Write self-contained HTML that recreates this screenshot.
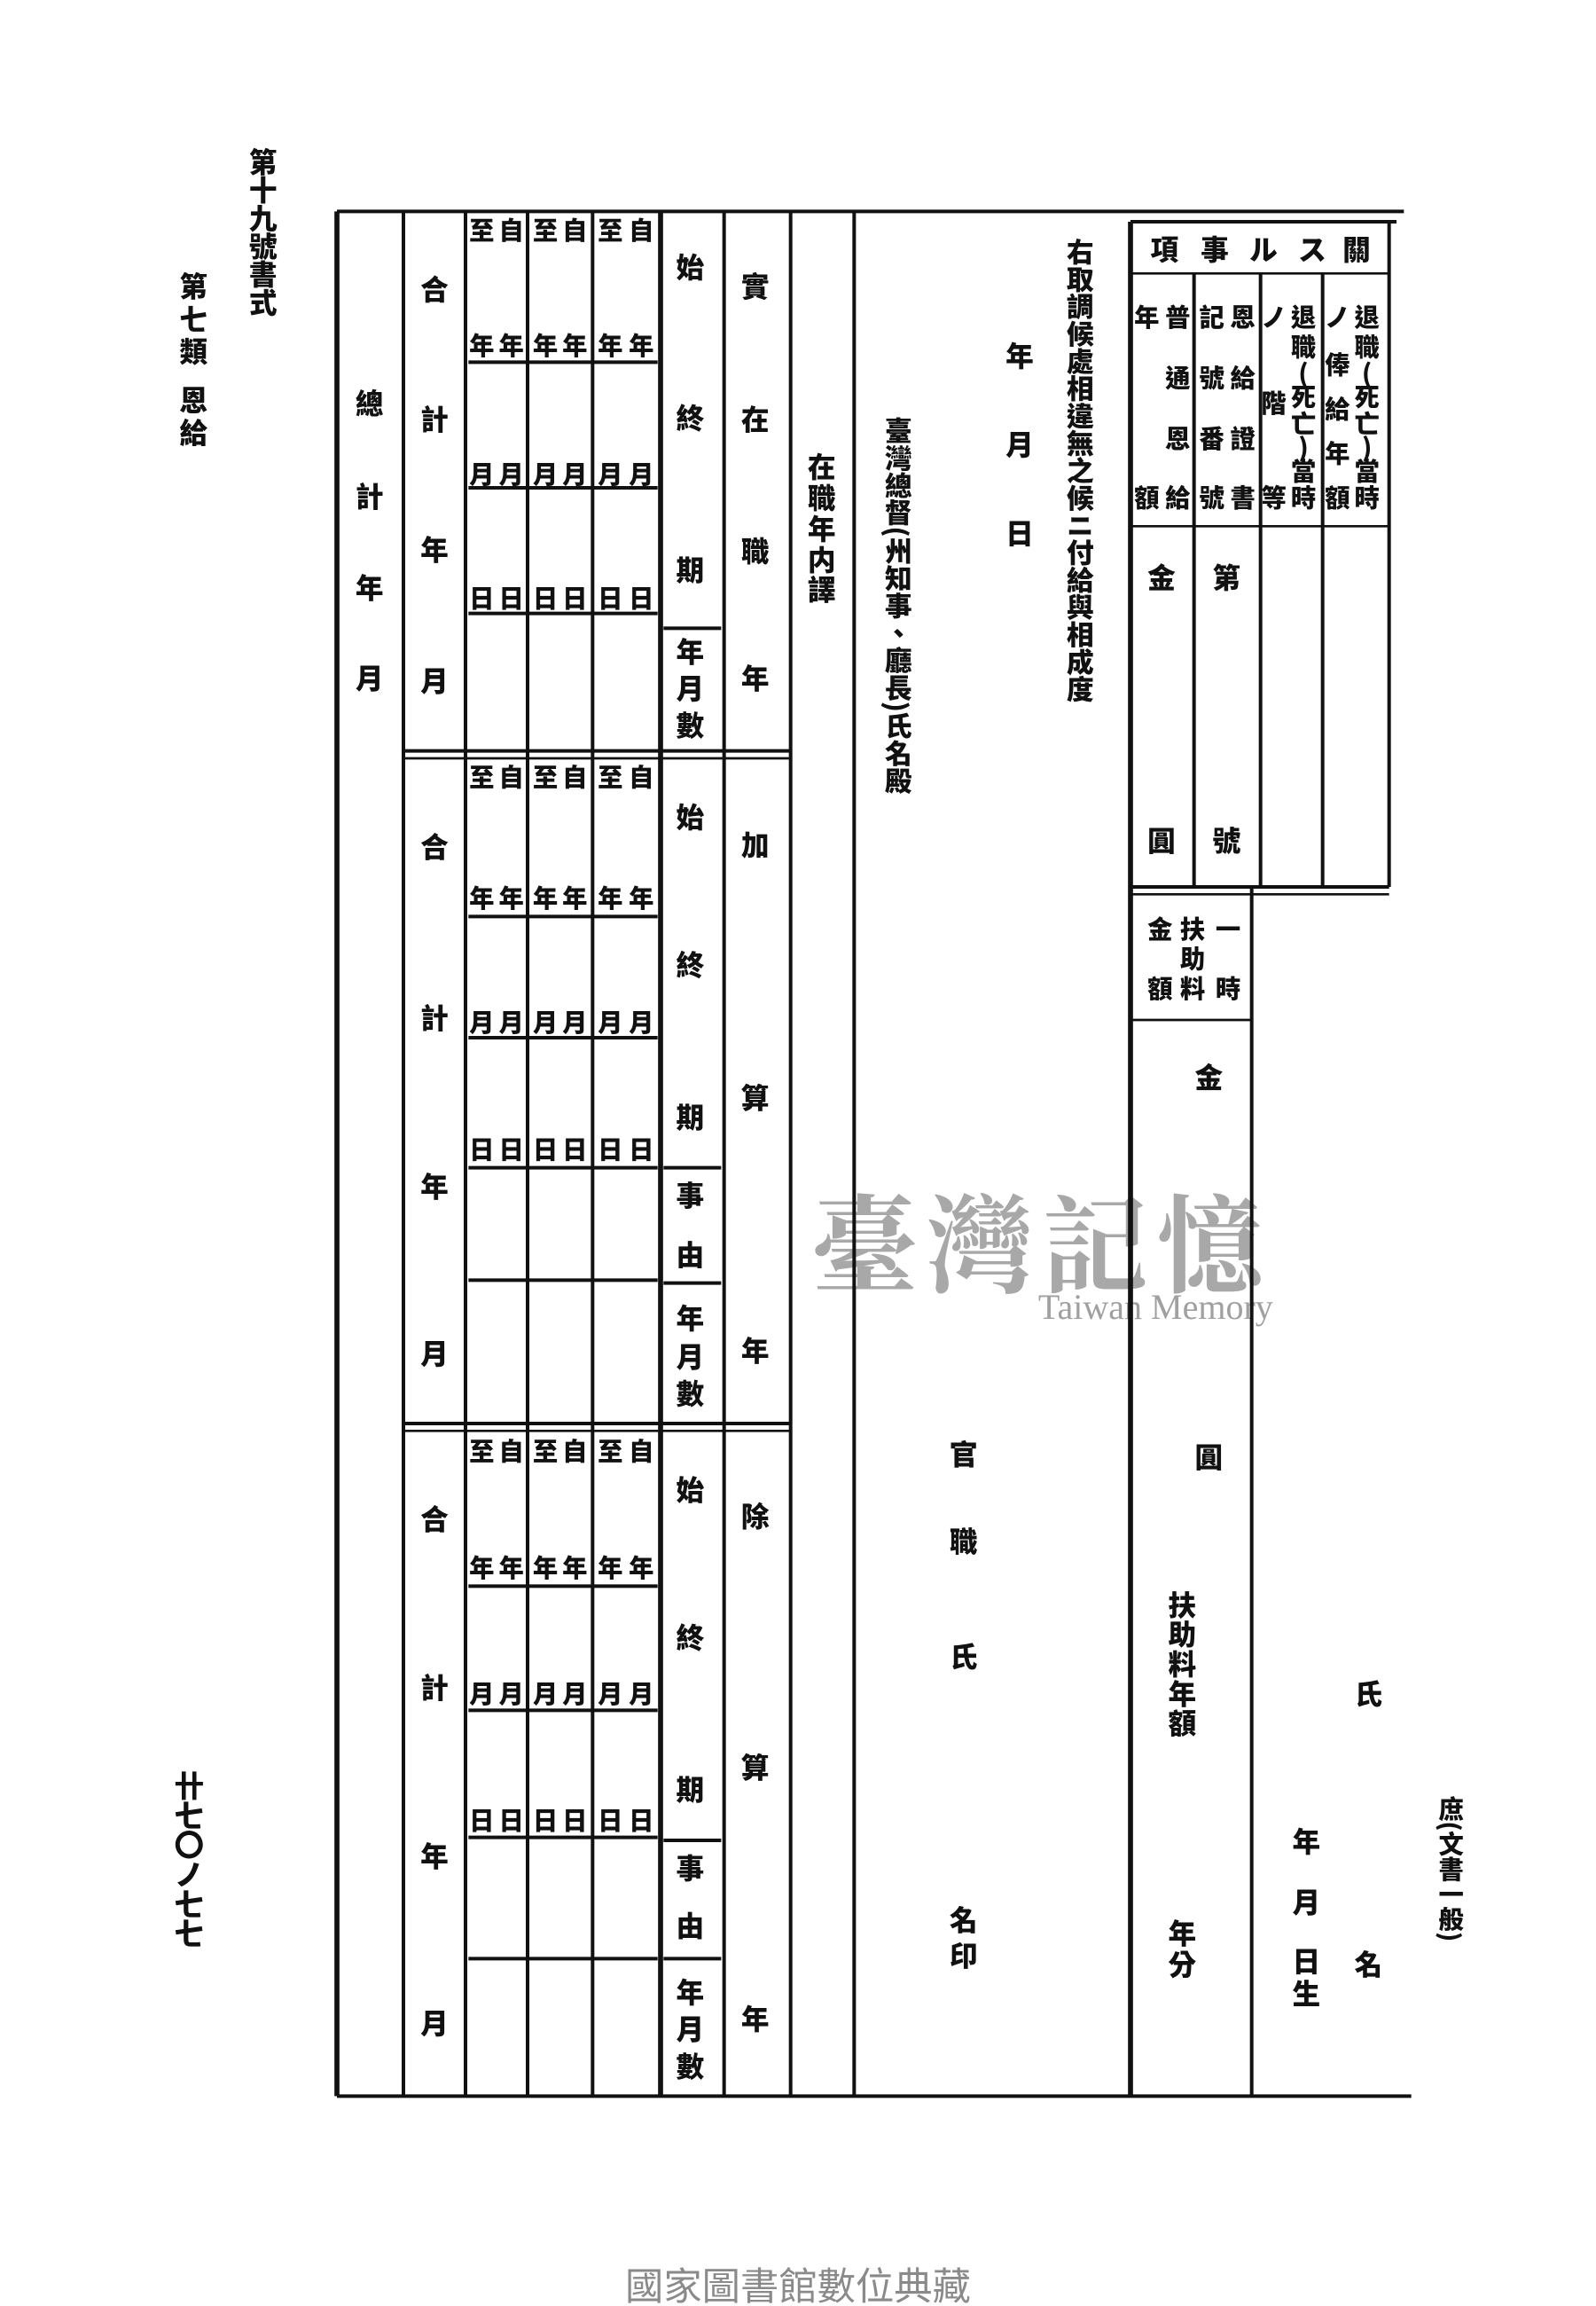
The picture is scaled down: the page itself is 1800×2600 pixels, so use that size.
<!DOCTYPE html>
<html><head><meta charset="utf-8">
<style>
html,body{margin:0;padding:0;background:#fff;}
svg{display:block;}
.t{font-family:"Noto Sans CJK TC","Noto Sans CJK JP",sans-serif;font-size:19px;font-weight:900;fill:#111;text-anchor:middle;dominant-baseline:central;}
.s{font-size:17px;}
.v{writing-mode:vertical-rl;text-anchor:start;dominant-baseline:central;}
line{stroke:#111;stroke-width:2.4;}
.th{stroke-width:3.4;}
.thin{stroke-width:1.6;}
</style></head>
<body>
<svg width="1800" height="2600" viewBox="0 0 1080 1560" xmlns="http://www.w3.org/2000/svg">
<rect width="1080" height="1560" fill="#fff"/>
<!-- watermark -->
<text x="705" y="838" style="font-family:'Noto Serif CJK SC','Noto Sans CJK TC',serif;font-size:72px;font-weight:700;fill:#a8a8a8;text-anchor:middle;dominant-baseline:central;letter-spacing:6px">臺灣記憶</text>
<text x="782" y="884" style="font-family:'Liberation Serif',serif;font-size:24px;fill:#a0a0a0;text-anchor:middle;dominant-baseline:central">Taiwan Memory</text>

<!-- outer lines -->
<line x1="228" y1="143" x2="950" y2="143"/>
<line x1="228" y1="1418" x2="955" y2="1418"/>
<line class="th" x1="228" y1="143" x2="228" y2="1418"/>
<line x1="273" y1="143" x2="273" y2="1418"/>
<line x1="315" y1="143" x2="315" y2="1418"/>
<line x1="357" y1="143" x2="357" y2="1418"/>
<line x1="401" y1="143" x2="401" y2="1418"/>
<line class="th" x1="447" y1="143" x2="447" y2="1418"/>
<line x1="490" y1="143" x2="490" y2="1418"/>
<line x1="535" y1="143" x2="535" y2="1418"/>
<line x1="578" y1="143" x2="578" y2="1418"/>
<line class="th" x1="765" y1="150" x2="765" y2="1418"/>
<line x1="847" y1="600" x2="847" y2="1418"/>

<!-- double lines between blocks -->
<line x1="273" y1="508" x2="535" y2="508"/><line class="thin" x1="273" y1="513" x2="535" y2="513"/>
<line x1="273" y1="963" x2="535" y2="963"/><line class="thin" x1="273" y1="968" x2="535" y2="968"/>

<g class="thin">
<line x1="317" y1="245" x2="445" y2="245"/><line x1="317" y1="330" x2="445" y2="330"/><line x1="317" y1="415" x2="445" y2="415"/>
<line x1="449" y1="425" x2="488" y2="425"/>
<line x1="317" y1="620" x2="445" y2="620"/><line x1="317" y1="702" x2="445" y2="702"/><line x1="317" y1="790" x2="445" y2="790"/><line x1="317" y1="866" x2="445" y2="866"/>
<line x1="449" y1="790" x2="488" y2="790"/><line x1="449" y1="868" x2="488" y2="868"/>
<line x1="317" y1="1073" x2="445" y2="1073"/><line x1="317" y1="1157" x2="445" y2="1157"/><line x1="317" y1="1243" x2="445" y2="1243"/><line x1="317" y1="1325" x2="445" y2="1325"/>
<line x1="449" y1="1245" x2="488" y2="1245"/><line x1="449" y1="1325" x2="488" y2="1325"/>
</g>

<!-- right top box -->
<line x1="940" y1="150" x2="940" y2="600"/>
<line x1="765" y1="150" x2="945" y2="150"/>
<line class="thin" x1="765" y1="185" x2="940" y2="185"/>
<line x1="808" y1="185" x2="808" y2="600"/>
<line x1="853" y1="185" x2="853" y2="600"/>
<line x1="895" y1="185" x2="895" y2="600"/>
<line class="thin" x1="765" y1="356" x2="940" y2="356"/>
<line x1="765" y1="600" x2="940" y2="600"/>
<line class="thin" x1="765" y1="605" x2="940" y2="605"/>
<line class="thin" x1="765" y1="690" x2="847" y2="690"/>

<g class="t">
<text x="250" y="272">總</text><text x="250" y="335">計</text><text x="250" y="397">年</text><text x="250" y="458">月</text>
<text x="294" y="195">合</text><text x="294" y="283">計</text><text x="294" y="371">年</text><text x="294" y="460">月</text>
<text x="294" y="572">合</text><text x="294" y="688">計</text><text x="294" y="802">年</text><text x="294" y="915">月</text>
<text x="294" y="1027">合</text><text x="294" y="1141">計</text><text x="294" y="1255">年</text><text x="294" y="1368">月</text>
</g>
<g class="t s">
<text x="326" y="155">至</text><text x="346" y="155">自</text><text x="369" y="155">至</text><text x="389" y="155">自</text><text x="413" y="155">至</text><text x="434" y="155">自</text>
<text x="326" y="233">年</text><text x="346" y="233">年</text><text x="369" y="233">年</text><text x="389" y="233">年</text><text x="413" y="233">年</text><text x="434" y="233">年</text>
<text x="326" y="320">月</text><text x="346" y="320">月</text><text x="369" y="320">月</text><text x="389" y="320">月</text><text x="413" y="320">月</text><text x="434" y="320">月</text>
<text x="326" y="404">日</text><text x="346" y="404">日</text><text x="369" y="404">日</text><text x="389" y="404">日</text><text x="413" y="404">日</text><text x="434" y="404">日</text>

<text x="326" y="525">至</text><text x="346" y="525">自</text><text x="369" y="525">至</text><text x="389" y="525">自</text><text x="413" y="525">至</text><text x="434" y="525">自</text>
<text x="326" y="607">年</text><text x="346" y="607">年</text><text x="369" y="607">年</text><text x="389" y="607">年</text><text x="413" y="607">年</text><text x="434" y="607">年</text>
<text x="326" y="691">月</text><text x="346" y="691">月</text><text x="369" y="691">月</text><text x="389" y="691">月</text><text x="413" y="691">月</text><text x="434" y="691">月</text>
<text x="326" y="777">日</text><text x="346" y="777">日</text><text x="369" y="777">日</text><text x="389" y="777">日</text><text x="413" y="777">日</text><text x="434" y="777">日</text>

<text x="326" y="981">至</text><text x="346" y="981">自</text><text x="369" y="981">至</text><text x="389" y="981">自</text><text x="413" y="981">至</text><text x="434" y="981">自</text>
<text x="326" y="1060">年</text><text x="346" y="1060">年</text><text x="369" y="1060">年</text><text x="389" y="1060">年</text><text x="413" y="1060">年</text><text x="434" y="1060">年</text>
<text x="326" y="1145">月</text><text x="346" y="1145">月</text><text x="369" y="1145">月</text><text x="389" y="1145">月</text><text x="413" y="1145">月</text><text x="434" y="1145">月</text>
<text x="326" y="1231">日</text><text x="346" y="1231">日</text><text x="369" y="1231">日</text><text x="389" y="1231">日</text><text x="413" y="1231">日</text><text x="434" y="1231">日</text>
</g>
<g class="t">
<text x="467" y="180">始</text><text x="467" y="282">終</text><text x="467" y="385">期</text>
<text x="467" y="440">年</text><text x="467" y="465">月</text><text x="467" y="490">數</text>
<text x="467" y="552">始</text><text x="467" y="652">終</text><text x="467" y="755">期</text>
<text x="467" y="808">事</text><text x="467" y="848">由</text>
<text x="467" y="891">年</text><text x="467" y="917">月</text><text x="467" y="942">數</text>
<text x="467" y="1007">始</text><text x="467" y="1107">終</text><text x="467" y="1210">期</text>
<text x="467" y="1263">事</text><text x="467" y="1302">由</text>
<text x="467" y="1347">年</text><text x="467" y="1372">月</text><text x="467" y="1397">數</text>

<text x="511" y="193">實</text><text x="511" y="283">在</text><text x="511" y="372">職</text><text x="511" y="458">年</text>
<text x="511" y="571">加</text><text x="511" y="742">算</text><text x="511" y="913">年</text>
<text x="511" y="1025">除</text><text x="511" y="1195">算</text><text x="511" y="1365">年</text>

<text x="556" y="315">在</text><text x="556" y="336">職</text><text x="556" y="357">年</text><text x="556" y="378">内</text><text x="556" y="398">譯</text>

<text x="690" y="240">年</text><text x="690" y="300">月</text><text x="690" y="360">日</text>
<text x="652" y="983">官</text><text x="652" y="1042">職</text><text x="652" y="1120">氏</text><text x="652" y="1298">名</text><text x="652" y="1322">印</text>
</g>
<text class="t v" x="731" y="161" style="font-size:18.5px">右取調候處相違無之候ニ付給與相成度</text>
<text class="t v" x="608" y="282" style="font-size:18.5px">臺灣總督(州知事、廳長)氏名殿</text>

<g class="t">
<text x="788" y="168">項</text><text x="822" y="168">事</text><text x="855" y="168">ル</text><text x="888" y="168">ス</text><text x="918" y="168">關</text>
</g>
<g class="t s">
<text x="925" y="214">退</text><text x="925" y="234">職</text><text x="925" y="252">(</text><text x="925" y="268">死</text><text x="925" y="286">亡</text><text x="925" y="302">)</text><text x="925" y="318">當</text><text x="925" y="336">時</text>
<text x="905" y="214">ノ</text><text x="905" y="246">俸</text><text x="905" y="276">給</text><text x="905" y="306">年</text><text x="905" y="336">額</text>
<text x="882" y="214">退</text><text x="882" y="234">職</text><text x="882" y="252">(</text><text x="882" y="268">死</text><text x="882" y="286">亡</text><text x="882" y="302">)</text><text x="882" y="318">當</text><text x="882" y="336">時</text>
<text x="862" y="214">ノ</text><text x="862" y="272">階</text><text x="862" y="336">等</text>
<text x="841" y="214">恩</text><text x="841" y="255">給</text><text x="841" y="296">證</text><text x="841" y="336">書</text>
<text x="820" y="214">記</text><text x="820" y="255">號</text><text x="820" y="296">番</text><text x="820" y="336">號</text>
<text x="797" y="214">普</text><text x="797" y="255">通</text><text x="797" y="296">恩</text><text x="797" y="336">給</text>
<text x="776" y="214">年</text><text x="776" y="336">額</text>
<text x="831" y="628">一</text><text x="831" y="668">時</text>
<text x="807" y="628">扶</text><text x="807" y="648">助</text><text x="807" y="668">料</text>
<text x="785" y="628">金</text><text x="785" y="668">額</text>
</g>
<g class="t">
<text x="786" y="390">金</text><text x="786" y="568">圓</text>
<text x="830" y="390">第</text><text x="830" y="568">號</text>
<text x="818" y="728">金</text><text x="818" y="985">圓</text>
<text x="800" y="1085">扶</text><text x="800" y="1105">助</text><text x="800" y="1125">料</text><text x="800" y="1145">年</text><text x="800" y="1165">額</text>
<text x="800" y="1307">年</text><text x="800" y="1328">分</text>
<text x="926" y="1145">氏</text><text x="926" y="1328">名</text>
<text x="884" y="1245">年</text><text x="884" y="1286">月</text><text x="884" y="1326">日</text><text x="884" y="1348">生</text>
</g>
<text class="t v" x="982" y="1215" style="font-size:17px">庶(文書一般)</text>

<text class="t v" x="178" y="100" style="font-size:19px">第十九號書式</text>
<g class="t">
<text x="131" y="193">第</text><text x="131" y="215">七</text><text x="131" y="237">類</text><text x="131" y="270">恩</text><text x="131" y="292">給</text>
</g>
<text class="t v" x="128" y="1198" style="font-size:20px">卄七〇ノ七七</text>

<text x="540" y="1545" style="font-family:'Noto Sans CJK TC',sans-serif;font-size:26px;fill:#8a8a8a;text-anchor:middle;dominant-baseline:central">國家圖書館數位典藏</text>
</svg>
</body></html>
